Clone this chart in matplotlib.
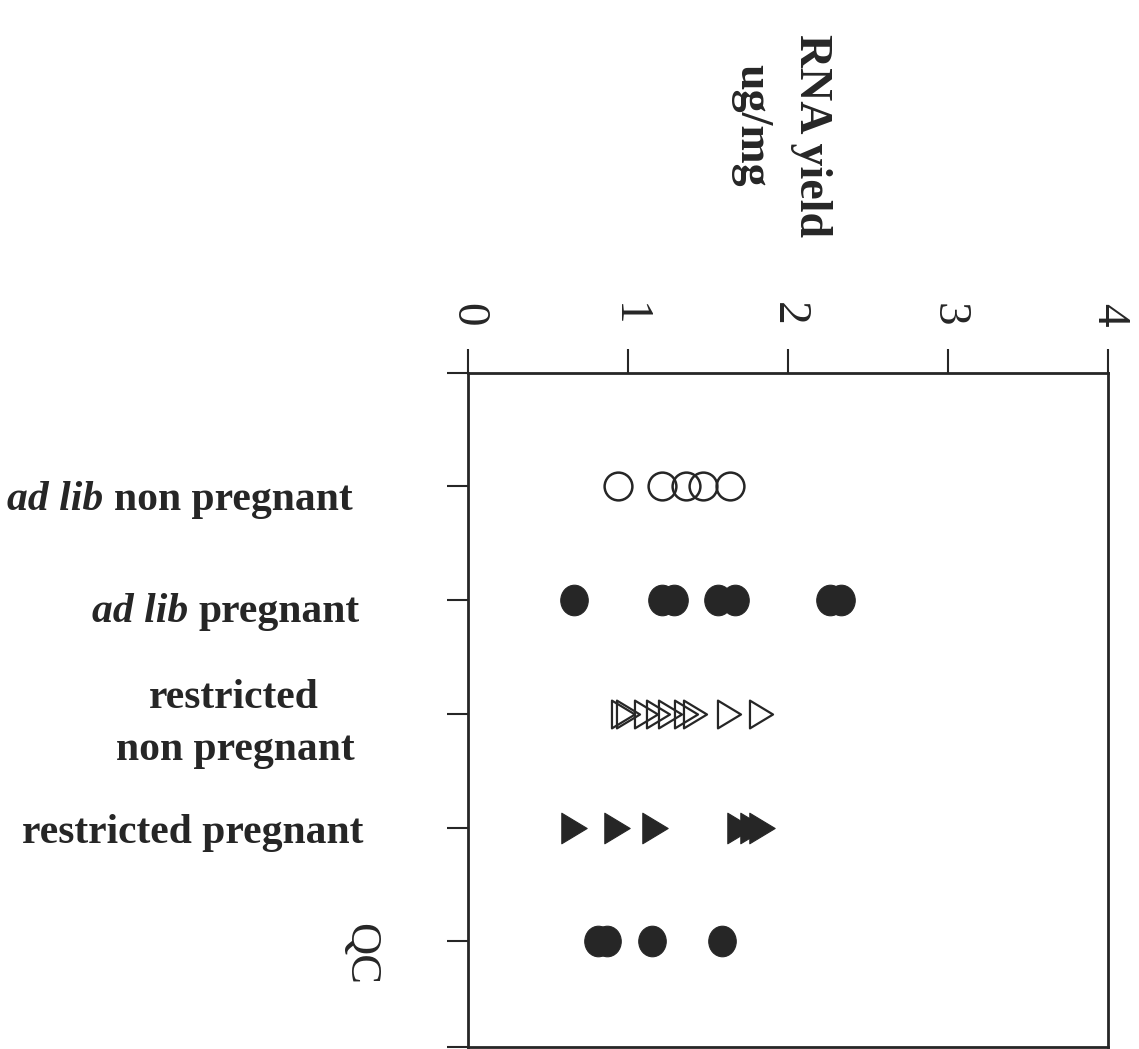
import matplotlib.pyplot as plt
from matplotlib.path import Path
from matplotlib import transforms

# Valores (RNA yield, ug/mg)
categories = ['ad lib non pregnant', 'ad lib pregnant', 'restricted non pregnant',
              'restricted pregnant', 'QC']
adlib_nonpreg = [0.94, 1.21, 1.36, 1.47, 1.64]
adlib_preg = [0.66, 1.21, 1.29, 1.56, 1.67, 2.26, 2.33]
restr_nonpreg = [0.97, 1.00, 1.11, 1.19, 1.26, 1.36, 1.42, 1.63, 1.83]
restr_preg = [0.66, 0.93, 1.17, 1.70, 1.78, 1.84]
qc = [0.81, 0.87, 1.15, 1.59]
x_ticks = [0, 1, 2, 3, 4]
title_lines = ['RNA yield', 'ug/mg']

ink = '#262626'
serif = 'Liberation Serif'
W, H = 1139, 1049

fig = plt.figure(figsize=(W / 100, H / 100), dpi=100)
ax = fig.add_axes([468 / W, 1 - 1047 / H, 640 / W, (1047 - 372.7) / H])

# marcadores
ellipse = Path.unit_circle().transformed(transforms.Affine2D().scale(0.9, 1.0))
tri = Path([(-0.83, -1), (0.83, 0), (-0.83, 1), (-0.83, -1)],
           [Path.MOVETO, Path.LINETO, Path.LINETO, Path.CLOSEPOLY])

rows = [adlib_nonpreg, adlib_preg, restr_nonpreg, restr_preg, qc]
styles = [
    dict(marker='o', ms=20, mfc='none', mec=ink, mew=1.8),
    dict(marker=ellipse, ms=22, mfc=ink, mec=ink, mew=0.8),
    dict(marker=tri, ms=20, mfc='none', mec=ink, mew=1.6),
    dict(marker=tri, ms=22, mfc=ink, mec=ink, mew=0.8),
    dict(marker=ellipse, ms=22, mfc=ink, mec=ink, mew=0.8),
]
positions = list(range(1, len(categories) + 1))
for pos, vals, st in zip(positions, rows, styles):
    ax.plot(vals, [pos] * len(vals), ls='none', **st)

y_bottom = 5.93
ax.set_xlim(0, 4)
ax.set_ylim(y_bottom, 0)

# eixo x no topo
ax.xaxis.tick_top()
ax.set_xticks(x_ticks)
ax.set_xticklabels([str(v) for v in x_ticks], rotation=-90, fontsize=34,
                   family=serif, color=ink)
ax.tick_params(axis='x', direction='out', length=17, width=1.5, pad=16.5,
               color=ink, top=True, bottom=False, labeltop=True, labelbottom=False)
ax.set_yticks([0] + positions + [y_bottom])
ax.set_yticklabels([])
ax.tick_params(axis='y', direction='out', length=15, width=1.5, color=ink,
               left=True, right=False)
for sp in ax.spines.values():
    sp.set_linewidth(2)
    sp.set_color(ink)

# rótulos das categorias
lab_tr = transforms.blended_transform_factory(ax.transAxes, ax.transData)


def at(dy):
    return transforms.offset_copy(lab_tr, fig=fig, x=0, y=-dy, units='dots')


def px(p):
    return (p - 468) / 640


lab_kw = dict(fontsize=30, family=serif, fontweight='bold', color=ink)

t1 = ax.text(px(353), positions[0], 'non pregnant', ha='right', va='baseline',
             transform=at(23.6), **lab_kw)
ax.annotate('ad lib', xy=(0, 0), xycoords=t1, xytext=(-11, 0), textcoords='offset pixels',
            ha='right', va='bottom', fontstyle='italic', **lab_kw)

t2 = ax.text(px(360), positions[1], 'pregnant', ha='right', va='baseline',
             transform=at(21.9), **lab_kw)
ax.annotate('ad lib', xy=(0, 0), xycoords=t2, xytext=(-11, 0), textcoords='offset pixels',
            ha='right', va='bottom', fontstyle='italic', **lab_kw)

ax.text(px(234), positions[2], 'restricted', ha='center', va='baseline',
        transform=at(-5.8), **lab_kw)
ax.text(px(235), positions[2], 'non pregnant', ha='center', va='baseline',
        transform=at(46.2), **lab_kw)

ax.text(px(363), positions[3], 'restricted pregnant', ha='right', va='baseline',
        transform=at(15.5), **lab_kw)

ax.text(px(360), positions[4], categories[4], ha='center', va='center', rotation=-90,
        transform=at(12.8), fontsize=32, family=serif, color=ink)

# título do eixo (rodado)
fig.text(811.5 / W, 1 - 136 / H, title_lines[0], rotation=-90, ha='center', va='center',
         fontsize=33, family=serif, fontweight='bold', color=ink)
fig.text(751.5 / W, 1 - 125 / H, title_lines[1], rotation=-90, ha='center', va='center',
         fontsize=33, family=serif, fontweight='bold', color=ink)

fig.savefig('out.png', dpi=100)
